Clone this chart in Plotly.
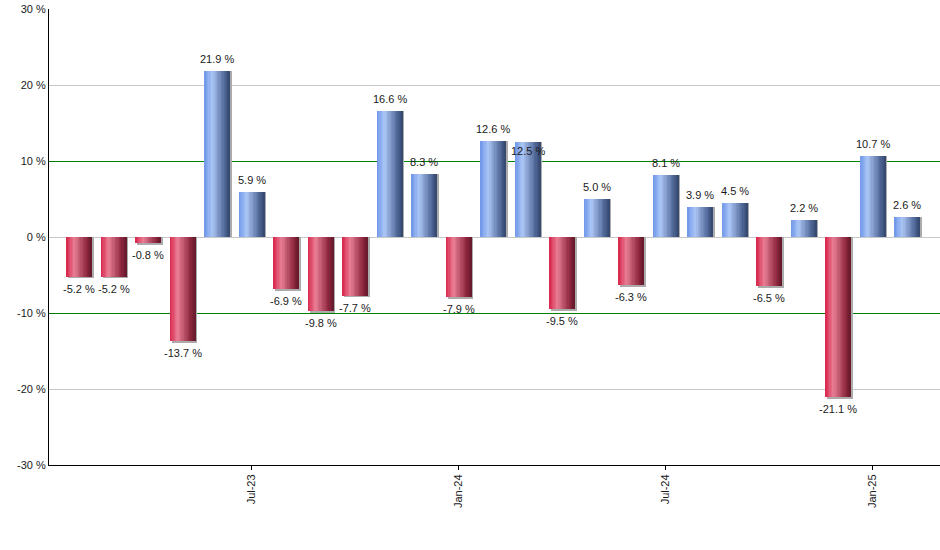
import plotly.graph_objects as go

months = ["Feb-23", "Mar-23", "Apr-23", "May-23", "Jun-23", "Jul-23", "Aug-23", "Sep-23",
          "Oct-23", "Nov-23", "Dec-23", "Jan-24", "Feb-24", "Mar-24", "Apr-24", "May-24",
          "Jun-24", "Jul-24", "Aug-24", "Sep-24", "Oct-24", "Nov-24", "Dec-24", "Jan-25", "Feb-25"]
returns = [-5.2, -5.2, -0.8, -13.7, 21.9, 5.9, -6.9, -9.8, -7.7, 16.6, 8.3, -7.9, 12.6,
           12.5, -9.5, 5.0, -6.3, 8.1, 3.9, 4.5, -6.5, 2.2, -21.1, 10.7, 2.6]
tick_labels = ["Jul-23", "Jan-24", "Jul-24", "Jan-25"]
y_ticks = [-30, -20, -10, 0, 10, 20, 30]
band_levels = [-10, 10]

x = list(range(len(months)))
tick_pos = [months.index(t) for t in tick_labels]
grey_grid = [v for v in y_ticks if v not in band_levels]

BAR_W = 0.74
N_SLICES = 20
blue_stops = [(0.0, (110, 150, 232)), (0.3, (172, 198, 246)), (0.8, (78, 102, 150)), (1.0, (52, 70, 108))]
red_stops = [(0.0, (214, 36, 74)), (0.3, (234, 128, 150)), (0.8, (140, 38, 62)), (1.0, (100, 24, 42))]


def interp(stops, t):
    for (t0, c0), (t1, c1) in zip(stops[:-1], stops[1:]):
        if t0 <= t <= t1:
            f = (t - t0) / (t1 - t0) if t1 > t0 else 0
            c = [round(a + (b - a) * f) for a, b in zip(c0, c1)]
            return "rgb(%d,%d,%d)" % tuple(c)
    c = stops[-1][1]
    return "rgb(%d,%d,%d)" % c


fig = go.Figure()

# invisible anchor for grey grid axis
fig.add_trace(go.Scatter(x=[0], y=[0], yaxis="y2", mode="markers", marker=dict(opacity=0),
                         hoverinfo="skip", showlegend=False))

# shadow
shadow_y = [v - 0.25 if v < 0 else v for v in returns]
fig.add_trace(go.Bar(x=x, y=shadow_y, width=BAR_W, offset=-BAR_W / 2 + 0.05,
                     marker=dict(color="#ababab", line=dict(width=0)), hoverinfo="skip", showlegend=False))

sw = BAR_W / N_SLICES
for i in range(N_SLICES):
    t = (i + 0.5) / N_SLICES
    cols = [interp(blue_stops, t) if v >= 0 else interp(red_stops, t) for v in returns]
    fig.add_trace(go.Bar(x=x, y=returns, width=BAR_W - i * sw, offset=-BAR_W / 2 + i * sw,
                         marker=dict(color=cols, line=dict(width=0)),
                         hoverinfo="skip", showlegend=False))

# value labels
collide_down = {13}  # label pushed down by overlap with neighbour's label
for i, v in enumerate(returns):
    if i in collide_down:
        shift = -9
    else:
        shift = 12 if v >= 0 else -12
    fig.add_annotation(x=i, y=v, text="%.1f %%" % v, showarrow=False, yshift=shift,
                       yanchor="middle", xanchor="center",
                       font=dict(family="Liberation Sans, Arial, sans-serif", size=11, color="#1a1a1a"))

fig.update_layout(
    width=940, height=550,
    margin=dict(l=49, r=0, t=9, b=85),
    plot_bgcolor="white", paper_bgcolor="white",
    barmode="overlay", bargap=0,
    showlegend=False,
    font=dict(family="Liberation Sans, Arial, sans-serif", size=11, color="#1a1a1a"),
    xaxis=dict(range=[-0.875, 24.95], tickmode="array", tickvals=tick_pos, ticktext=tick_labels,
               tickangle=-90, ticks="outside", ticklen=4, tickcolor="black",
               showline=True, linecolor="black", linewidth=1, showgrid=False, zeroline=False,
               mirror=False),
    yaxis=dict(range=[-30, 30], tickmode="array", tickvals=y_ticks,
               ticktext=["%d %%" % v for v in y_ticks],
               showline=True, linecolor="black", linewidth=1, showgrid=False,
               zeroline=False, ticks="", ticklen=0,
               minor=dict(tickmode="array", tickvals=band_levels, showgrid=True,
                          gridcolor="#008000", gridwidth=1, ticks="")),
    yaxis2=dict(range=[-30, 30], overlaying="y", tickmode="array", tickvals=grey_grid,
                showticklabels=False, showgrid=True, gridcolor="#c8c8c8", gridwidth=1,
                zeroline=False, showline=False, ticks=""),
)

fig.write_html("out.html")
